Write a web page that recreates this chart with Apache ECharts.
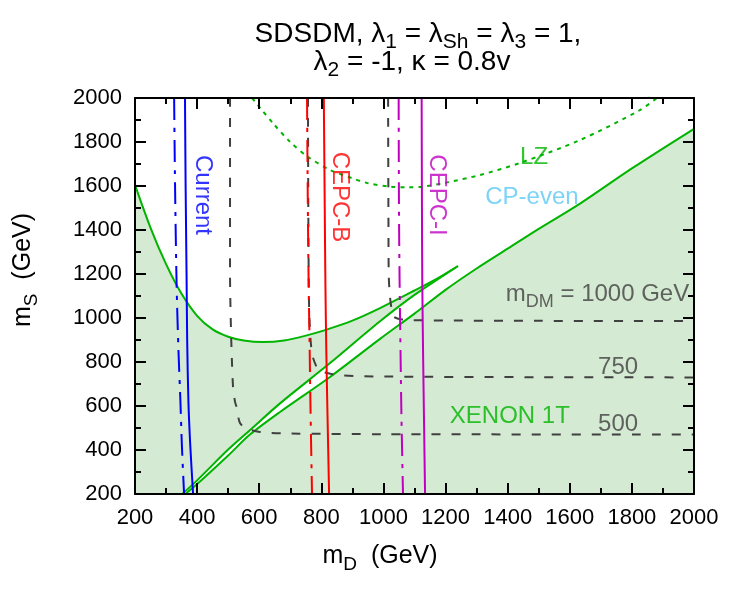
<!DOCTYPE html>
<html>
<head>
<meta charset="utf-8">
<script src="https://cdn.jsdelivr.net/npm/echarts@6/dist/echarts.min.js"></script>
<style>
html,body{margin:0;background:#fff}
#wrap{position:relative;width:750px;height:600px}
#chart,#frame{position:absolute;left:0;top:0;width:750px;height:600px}
#frame{pointer-events:none}
</style>
</head>
<body>
<div id="wrap"><div id="chart"></div><div id="frame"></div></div>
<script>
// XENON 1T boundary: upper U-shaped curve, the return edge of the narrow band, and the lower edge
const xenonUpper = [[200,1605],[250,1410],[300,1245],[350,1110],[400,1010],[450,948],[500,915],[550,898],[612,891],[680,898],[750,920],[812,945],[900,988],[989,1045],[1100,1125],[1180,1185],[1240,1236]];
const xenonReturn = [[352,200],[400,262],[500,402],[570,490],[667,612],[828,795],[989,985],[1100,1105],[1240,1236]];
const xenonLower = [[362,200],[400,245],[500,375],[570,470],[667,573],[828,732],[989,905],[1100,1020],[1200,1128],[1300,1225],[1400,1315],[1500,1405],[1633,1520],[1800,1680],[2000,1860]];
const lzLine = [[577,2000],[644,1886],[700,1800],[754,1735],[828,1673],[900,1635],[947,1614],[1021,1597],[1080,1594],[1127,1597],[1200,1615],[1311,1650],[1440,1705],[1633,1809],[1826,1945],[1880,2000]];

const currentSolid = [[361,2000],[363,1600],[366,1200],[368,900],[372,620],[378,420],[387,200]];
const currentDashDot = [[326,2000],[329,1600],[334,1150],[340,850],[346,630],[351,420],[358,200]];
const cepcBSolid = [[808,2000],[811,1500],[813,1170],[816,850],[820,550],[825,200]];
const cepcBDashDot = [[754,2000],[756,1600],[759,1170],[762,900],[765,600],[770,200]];
const cepcISolid = [[1123,2000],[1124,1500],[1125,1170],[1128,800],[1131,500],[1134,200]];
const cepcIDashDot = [[1049,2000],[1050,1500],[1052,1170],[1055,850],[1058,550],[1063,200]];

// m_DM contours
const dm500 = [[506,2000],[506,1200],[509,950],[512,810],[516,680],[522,620],[528,590],[538,523],[560,498],[602,482],[700,475],[1000,472],[2000,470]];
const dm750 = [[757,2000],[758,1500],[760,1100],[763,950],[768,860],[773,820],[790,766],[812,752],[860,740],[1000,734],[1500,731],[2000,730]];
const dm1000 = [[1015,2000],[1016,1500],[1017,1200],[1020,1114],[1025,1050],[1031,1009],[1045,998],[1069,992],[1150,989],[1500,987],[2000,986]];

const AXIS_MIN = 200, AXIS_MAX = 2000, AXIS_STEP = 200;

const BLUE = '#0000ff', RED = '#ff0000', MAG = '#c000c0', GREEN = '#00b400', GREY = '#404040', FILL = '#d5ead3';

const annotations = [
  { text: 'Current', at: [419,1559], color: BLUE, rotate: -90 },
  { text: 'CEPC-B', at: [860,1550], color: RED, rotate: -90 },
  { text: 'CEPC-I', at: [1170,1559], color: MAG, rotate: -90 },
  { text: 'LZ', at: [1485,1732], color: GREEN },
  { text: 'CP-even', at: [1478,1550], color: '#5bc8f5' },
  { text: '{t|m}{s|DM}{t| = 1000 GeV}', at: [1394,1109], color: GREY, align: 'left' },
  { text: '750', at: [1691,777], color: GREY, align: 'left' },
  { text: '500', at: [1691,518], color: GREY, align: 'left' },
  { text: 'XENON 1T', at: [1407,555], color: GREEN }
];

const FONT = 'Liberation Sans';
const GRID = { left: 135, right: 56, top: 98, bottom: 106 };
const sub = (color, size) => ({
  t: { fontSize: size, lineHeight: size + 10, color, fontFamily: FONT },
  s: { fontSize: Math.round(size * 0.74), lineHeight: Math.round(size * 0.74), verticalAlign: 'bottom', color, fontFamily: FONT }
});

const DASH = [9, 11];
const DASHDOT = [22, 8, 4, 8];

function curve(data, color, type) {
  return { type: 'line', data, symbol: 'none', smooth: 0.3, z: 5, silent: true,
    lineStyle: { color, width: 2, type: type || 'solid' } };
}
function filled(data, color, z) {
  return { type: 'line', data, symbol: 'none', smooth: 0.3, z, silent: true,
    lineStyle: { color: GREEN, width: 2 },
    areaStyle: { color, opacity: 1, origin: 'start' } };
}
function textEl(text, x, y, size, rotation) {
  return { type: 'text', x, y, rotation: rotation || 0, z: 20, silent: true,
    style: { text, x: 0, y: 0, align: 'center', rich: sub('#000', size) } };
}
const hiddenAxis = () => ({ type: 'value', show: false, min: AXIS_MIN, max: AXIS_MAX, interval: AXIS_STEP });

// curves, shading and texts
const chart = echarts.init(document.getElementById('chart'), null, { renderer: 'canvas' });
chart.setOption({
  animation: false,
  grid: { ...GRID },
  xAxis: hiddenAxis(),
  yAxis: hiddenAxis(),
  graphic: [
    textEl('{t|SDSDM, λ}{s|1}{t| = λ}{s|Sh}{t| = λ}{s|3}{t| = 1,}', 418, 15, 28),
    textEl('{t|λ}{s|2}{t| = -1, κ = 0.8v}', 412, 43, 28),
    textEl('{t|m}{s|D}{t|  (GeV)}', 380, 539, 25),
    textEl('{t|m}{s|S}{t|  (GeV)}', 6, 270, 25, Math.PI / 2)
  ],
  series: [
    filled(xenonUpper, FILL, 1),
    filled(xenonReturn, '#ffffff', 2),
    filled(xenonLower, FILL, 3),
    curve(lzLine, GREEN, [4, 5]),
    curve(dm500, GREY, DASH),
    curve(dm750, GREY, DASH),
    curve(dm1000, GREY, DASH),
    curve(currentDashDot, BLUE, DASHDOT),
    curve(currentSolid, BLUE),
    curve(cepcBDashDot, RED, DASHDOT),
    curve(cepcBSolid, RED),
    curve(cepcIDashDot, MAG, DASHDOT),
    curve(cepcISolid, MAG),
    {
      type: 'scatter', symbolSize: 1, silent: true, z: 8,
      itemStyle: { color: 'rgba(0,0,0,0)' },
      data: annotations.map(a => ({
        value: a.at,
        label: {
          show: true, position: 'inside', formatter: a.text, color: a.color,
          rotate: a.rotate || 0, align: a.align || 'center', verticalAlign: 'middle',
          fontSize: 24, fontFamily: FONT, rich: sub(a.color, 24)
        }
      }))
    }
  ]
});

// frame with inward ticks on all four sides (grid 0) and the tick labels (grid 1), drawn on top
function tickAxis(pos) {
  return {
    type: 'value', gridIndex: 0, position: pos, min: AXIS_MIN, max: AXIS_MAX, interval: AXIS_STEP,
    axisLine: { show: true, onZero: false, lineStyle: { color: '#000', width: 2 } },
    axisTick: { show: true, inside: true, length: 11, lineStyle: { color: '#000', width: 2 } },
    minorTick: { show: true, splitNumber: 2, length: 6, lineStyle: { color: '#000', width: 2 } },
    axisLabel: { show: false }, splitLine: { show: false }
  };
}
function labelAxis(pos) {
  return {
    type: 'value', gridIndex: 1, position: pos, min: AXIS_MIN, max: AXIS_MAX, interval: AXIS_STEP,
    axisLine: { show: false }, axisTick: { show: false }, splitLine: { show: false },
    axisLabel: { fontSize: 22, color: '#000', fontFamily: FONT, margin: 13, formatter: v => String(v) }
  };
}
const frame = echarts.init(document.getElementById('frame'), null, { renderer: 'canvas' });
frame.setOption({
  animation: false,
  grid: [{ ...GRID }, { ...GRID }],
  xAxis: [tickAxis('bottom'), tickAxis('top'), labelAxis('bottom')],
  yAxis: [tickAxis('left'), tickAxis('right'), labelAxis('left')],
  series: [
    { type: 'line', data: [[AXIS_MIN, AXIS_MIN]], symbol: 'none', xAxisIndex: 0, yAxisIndex: 0 },
    { type: 'line', data: [[AXIS_MIN, AXIS_MIN]], symbol: 'none', xAxisIndex: 2, yAxisIndex: 2 }
  ]
});
</script>
</body>
</html>
